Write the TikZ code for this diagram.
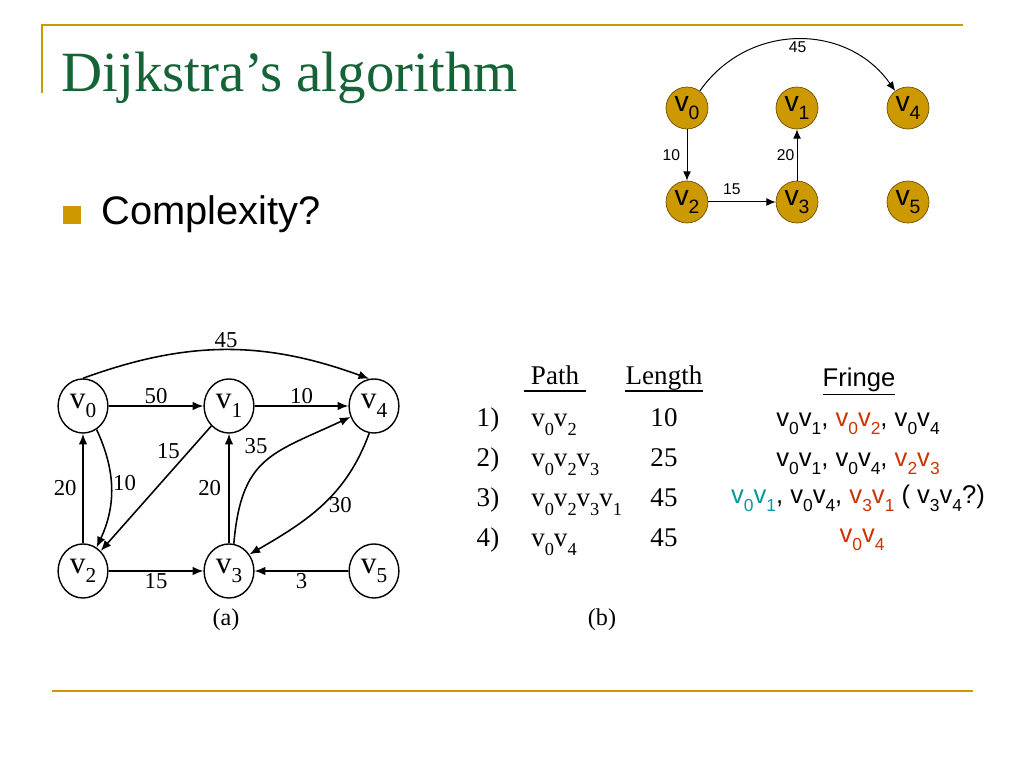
\documentclass[tikz,border=0pt]{standalone}
\usepackage{fontspec}
\setmainfont{Liberation Serif}
\setsansfont{Liberation Sans}
\usetikzlibrary{arrows.meta,shapes.geometric}
\definecolor{gold}{RGB}{204,153,0}
\definecolor{darkgold}{RGB}{110,80,0}
\definecolor{titlegreen}{RGB}{20,100,55}
\definecolor{pickred}{RGB}{204,51,0}
\definecolor{pickteal}{RGB}{0,153,153}
\newcommand{\vv}[1]{v\raisebox{-0.3em}{\scalebox{0.68}{#1}}}
\tikzset{
  vert/.style={ellipse,draw,line width=1pt,minimum width=35pt,minimum height=38pt,inner sep=0pt,font=\fontsize{22}{22}\selectfont},
  gvert/.style={circle,draw=darkgold,fill=gold,line width=0.5pt,minimum size=29.5pt,inner sep=0pt,font=\fontsize{20}{20}\sffamily},
  link/.style={-{Latex[length=7.5pt,width=6pt]},line width=1.1pt},
  glink/.style={-{Latex[length=6.5pt,width=5.5pt]},line width=0.7pt},
  wt/.style={font=\fontsize{16}{16}\selectfont,inner sep=1pt},
  gwt/.style={font=\fontsize{11}{11}\sffamily,inner sep=1.5pt},
  tab/.style={font=\fontsize{19}{19}\selectfont,inner sep=0pt},
  fringe/.style={font=\fontsize{18}{18}\sffamily,inner sep=0pt}
}
\begin{document}
\begin{tikzpicture}[x=0.703pt,y=0.703pt]
    \useasboundingbox (0,0) rectangle (1024,768);
    \draw[gold,line width=1.4pt] (42,675) -- (42,743) -- (963,743);
    \draw[gold,line width=1.4pt] (52,77) -- (973,77);
    \node[anchor=base west,inner sep=0pt,text=titlegreen,font=\fontsize{40}{40}\selectfont] (title) at (61,676) {Dijkstra's algorithm};
    \node[fill=gold,minimum size=12pt,inner sep=0pt] (bullet) at (72,553) {};
    \node[anchor=base west,inner sep=0pt,font=\fontsize{28}{28}\sffamily] (cplx) at (101,543) {Complexity?};

    \foreach \n/\x/\y in {0/687/660,1/797/660,4/908/660,2/687/566,3/797/566,5/908/566}
        \node[gvert] (g\n) at (\x,\y) {\vv\n};
    \draw[glink] (g0) -- node[gwt,left=3pt] {10} (g2);
    \draw[glink] (g2) -- node[gwt,above=3pt,pos=0.35] {15} (g3);
    \draw[glink] (g3) -- node[gwt,left] {20} (g1);
    \draw[glink] (g0.53) to[out=55,in=125,looseness=1.1] node[gwt,below] {45} (g4.127);

    \foreach \n/\x/\y in {0/83/362,1/229/362,4/374/362,2/83/197,3/229/197,5/374/197}
        \node[vert] (w\n) at (\x,\y) {\vv\n};
    \draw[link] (w0) -- node[wt,above] {50} (w1);
    \draw[link] (w1) -- node[wt,above] {10} (w4);
    \draw[link] (w0.north) to[out=20,in=160] node[wt,above] {45} (w4.100);
    \draw[link] (w2) -- node[wt,left=3pt] {20} (w0);
    \draw[link] (w0.-60) to[bend left=25] node[wt,right,pos=0.45] {10} (w2.60);
    \draw[link] (w1) -- node[wt,left=5pt,pos=0.2] {15} (w2);
    \draw[link] (w3) -- node[wt,left=4pt] {20} (w1);
    \draw[link] (w3.80) to[out=85,in=205,looseness=1.3] node[wt,above left=1pt,pos=0.55] {35} (w4.205);
    \draw[link] (w4.260) to[out=250,in=30] node[wt,right=3pt] {30} (w3.39);
    \draw[link] (w2) -- node[wt,below] {15} (w3);
    \draw[link] (w5) -- node[wt,below] {3} (w3);
    \node[font=\fontsize{17}{17}\selectfont] (capa) at (226,148) {(a)};

    \node[tab,anchor=base] (hpath) at (555,383) {Path};
    \node[tab,anchor=base] (hlen) at (664,383) {Length};
    \draw[line width=1pt] ([xshift=-5pt,yshift=-4.2pt]hpath.base west) -- ([xshift=5pt,yshift=-4.2pt]hpath.base east);
    \draw[line width=1pt] ([yshift=-4.2pt]hlen.base west) -- ([yshift=-4.2pt]hlen.base east);
    \foreach \p/\l [count=\r] in {\vv0\vv2/10,\vv0\vv2\vv3/25,\vv0\vv2\vv3\vv1/45,\vv0\vv4/45} {
        \node[tab,anchor=base] (num\r) at (488,381-40*\r) {\r)};
        \node[tab,anchor=base west] (path\r) at (531,381-40*\r) {\p};
        \node[tab,anchor=base] (len\r) at (664,381-40*\r) {\l};
    }
    \node[font=\fontsize{17}{17}\selectfont] (capb) at (602,148) {(b)};

    \node[fringe,anchor=base] (fhead) at (859,381) {\underline{Fringe}};
    \node[fringe,anchor=base] (f1) at (858,341) {\vv0\vv1, \textcolor{pickred}{\vv0\vv2}, \vv0\vv4};
    \node[fringe,anchor=base] (f2) at (858,301) {\vv0\vv1, \vv0\vv4, \textcolor{pickred}{\vv2\vv3}};
    \node[fringe,anchor=base] (f3) at (858,264) {\textcolor{pickteal}{\vv0\vv1}, \vv0\vv4, \textcolor{pickred}{\vv3\vv1} ( \vv3\vv4?)};
    \node[fringe,anchor=base,text=pickred] (f4) at (862,225) {\vv0\vv4};
\end{tikzpicture}
\end{document}
